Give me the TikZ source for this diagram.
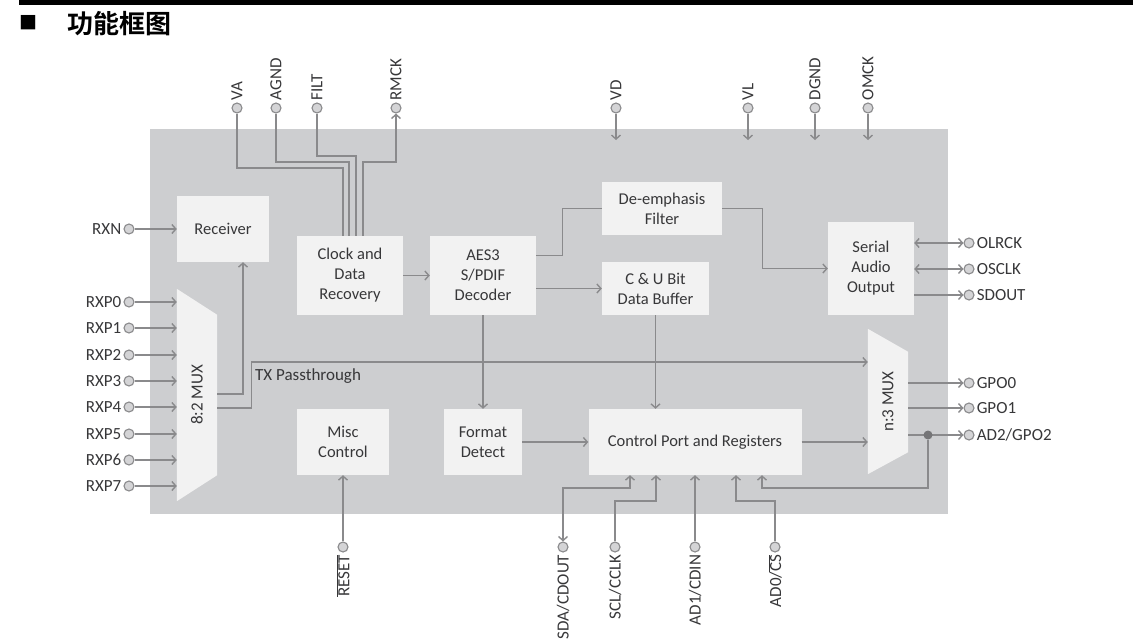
\documentclass[tikz,border=0pt]{standalone}
\usepackage{fontspec}
\setmainfont{Carlito}
\newfontfamily\cjk{Noto Sans CJK SC}[BoldFont={Noto Sans CJK SC Bold}]
\usetikzlibrary{arrows.meta,calc}
\definecolor{chip}{RGB}{205,206,208}
\definecolor{isi}{RGB}{242,242,242}
\definecolor{abu}{RGB}{138,138,140}
\definecolor{bulat}{RGB}{212,212,214}
\definecolor{tinta}{RGB}{55,55,57}

\begin{document}
\begin{tikzpicture}[x=1pt,y=-1pt,
    >={Straight Barb[length=4pt,width=9pt]},
    garis/.style={draw=abu,line width=1.4pt},
    kotak/.style={fill=isi,align=center,inner sep=0pt,text=tinta,
      font=\fontsize{16.5}{20}\selectfont},
    kaki/.style={circle,draw=abu,fill=bulat,line width=1.1pt,
      minimum size=10pt,inner sep=0pt,label distance=3pt},
    nama/.style={text=tinta,font=\fontsize{17}{19}\selectfont,inner sep=2pt},
    atas/.style={label={[nama,rotate=90,anchor=west]above:#1}},
    bawah/.style={label={[nama,rotate=90,anchor=east]below:#1}},
    kiri/.style={label={[nama]left:#1}},
    kanan/.style={label={[nama]right:#1}},
    rangka/.style={minimum width=40,inner sep=0pt}]

    \useasboundingbox (0,0) rectangle (1133,643);

    % --- Judul di atas gambar ----------------------------------------------
    \draw[line width=5pt] (19,2.5) -- (1133,2.5);
    \node[inner sep=0pt,font=\cjk\fontsize{18}{18}\selectfont] (tanda) at (28.5,23) {■};
    \node[anchor=west,inner sep=0pt,font=\cjk\bfseries\fontsize{26}{28}\selectfont]
      (judul) at (67,24) {功能框图};

    % --- Badan chip --------------------------------------------------------
    \fill[chip] (150,129) rectangle (948,514);

    % --- Blok fungsi -------------------------------------------------------
    \node[kotak,minimum width=92,minimum height=66] (rcv) at (223,229) {Receiver};
    \node[kotak,minimum width=106,minimum height=79] (cdr) at (350,275.5)
      {Clock and\\Data\\Recovery};
    \node[kotak,minimum width=106,minimum height=79] (aes) at (483,275.5)
      {AES3\\S/PDIF\\Decoder};
    \node[kotak,minimum width=120,minimum height=53] (dmf) at (662,208.5)
      {De-emphasis\\Filter};
    \node[kotak,minimum width=107,minimum height=53] (cub) at (655.5,288.5)
      {C \& U Bit\\Data Buffer};
    \node[kotak,minimum width=86,minimum height=93] (sao) at (871,268.5)
      {Serial\\Audio\\Output};
    \node[kotak,minimum width=92,minimum height=66] (misc) at (343,442)
      {Misc\\Control};
    \node[kotak,minimum width=78,minimum height=66] (fmt) at (483,442)
      {Format\\Detect};
    \node[kotak,minimum width=213,minimum height=66] (cpr) at (695,442)
      {Control Port and Registers};

    % --- Dua multiplexer berbentuk trapesium -------------------------------
    \node[rangka,minimum height=212] (mux82) at (197,395) {};
    \fill[isi] (mux82.north west) -- ($(mux82.north east)+(0,26)$)
      -- ($(mux82.south east)+(0,-26)$) -- (mux82.south west) -- cycle;
    \node[nama,rotate=90] (tmux82) at (mux82) {8:2 MUX};
    \node[rangka,minimum height=145] (mux3) at (888,401.5) {};
    \fill[isi] (mux3.north west) -- ($(mux3.north east)+(0,23)$)
      -- ($(mux3.south east)+(0,-22)$) -- (mux3.south west) -- cycle;
    \node[nama,rotate=90] (tmux3) at (mux3) {n:3 MUX};

    % --- Kaki di sisi atas -------------------------------------------------
    \node[kaki,atas=VA] (pva) at (237,108) {};
    \node[kaki,atas=AGND] (pagnd) at (276,108) {};
    \node[kaki,atas=FILT] (pfilt) at (317,108) {};
    \node[kaki,atas=RMCK] (prmck) at (396,108) {};
    \node[kaki,atas=VD] (pvd) at (616,108) {};
    \node[kaki,atas=VL] (pvl) at (748,108) {};
    \node[kaki,atas=DGND] (pdgnd) at (815,108) {};
    \node[kaki,atas=OMCK] (pomck) at (868,108) {};

    % --- Kaki di sisi kiri -------------------------------------------------
    \node[kaki,kiri=RXN] (prxn) at (129,229) {};
    \node[kaki,kiri=RXP0] (prxp0) at (129,302) {};
    \node[kaki,kiri=RXP1] (prxp1) at (129,328) {};
    \node[kaki,kiri=RXP2] (prxp2) at (129,355) {};
    \node[kaki,kiri=RXP3] (prxp3) at (129,381) {};
    \node[kaki,kiri=RXP4] (prxp4) at (129,407) {};
    \node[kaki,kiri=RXP5] (prxp5) at (129,434) {};
    \node[kaki,kiri=RXP6] (prxp6) at (129,460) {};
    \node[kaki,kiri=RXP7] (prxp7) at (129,486) {};

    % --- Kaki di sisi kanan ------------------------------------------------
    \node[kaki,kanan=OLRCK] (polrck) at (969,243) {};
    \node[kaki,kanan=OSCLK] (posclk) at (969,269) {};
    \node[kaki,kanan=SDOUT] (psdout) at (969,295) {};
    \node[kaki,kanan=GPO0] (pgpo0) at (969,383) {};
    \node[kaki,kanan=GPO1] (pgpo1) at (969,408) {};
    \node[kaki,kanan=AD2/GPO2] (pgpo2) at (969,435) {};

    % --- Kaki di sisi bawah ------------------------------------------------
    \node[kaki,bawah=$\overline{\mbox{RESET}}$] (preset) at (343,547) {};
    \node[kaki,bawah=SDA/CDOUT] (psda) at (563,547) {};
    \node[kaki,bawah=SCL/CCLK] (pscl) at (615,547) {};
    \node[kaki,bawah=AD1/CDIN] (pad1) at (695,547) {};
    \node[kaki,bawah=AD0/$\overline{\mbox{CS}}$] (pad0) at (775,547) {};

    % --- Kawat catu dan clock dari atas ------------------------------------
    \draw[garis] (pva) |- (343,168) -- ($(cdr.north)+(-7,0)$);
    \draw[garis] (pagnd) |- (349,162) -- ($(cdr.north)+(-1,0)$);
    \draw[garis] (pfilt) |- (356,156) -- ($(cdr.north)+(6,0)$);
    \draw[garis,->] ($(cdr.north)+(13,0)$) |- (396,162) -- (prmck);
    \draw[garis,->] (pvd) -- ++(0,32);
    \draw[garis,->] (pvl) -- ++(0,32);
    \draw[garis,->] (pdgnd) -- ++(0,32);
    \draw[garis,->] (pomck) -- ++(0,32);

    % --- Masukan penerima --------------------------------------------------
    \draw[garis,->] (prxn) -- (rcv.west);
    \draw[garis,->] (prxp0) -- (prxp0 -| mux82.west);
    \draw[garis,->] (prxp1) -- (prxp1 -| mux82.west);
    \draw[garis,->] (prxp2) -- (prxp2 -| mux82.west);
    \draw[garis,->] (prxp3) -- (prxp3 -| mux82.west);
    \draw[garis,->] (prxp4) -- (prxp4 -| mux82.west);
    \draw[garis,->] (prxp5) -- (prxp5 -| mux82.west);
    \draw[garis,->] (prxp6) -- (prxp6 -| mux82.west);
    \draw[garis,->] (prxp7) -- (prxp7 -| mux82.west);
    \draw[garis,->] ($(mux82.east)+(0,-1)$) -| ($(rcv.south)+(20,0)$);
    % Jalur TX Passthrough langsung ke multiplexer keluaran.
    \draw[garis,->] ($(mux82.east)+(0,13)$) -- ++(34,0) |- ($(mux3.west)+(0,-39.5)$);
    \node[nama,anchor=west] (tx) at (253,376) {TX Passthrough};

    % --- Alur data di dalam chip -------------------------------------------
    \draw[garis,->] (cdr) -- (aes);
    \draw[garis] ($(aes.east)+(0,-20)$) -- ++(26,0) |- (dmf.west);
    \draw[garis,->] (aes.east |- cub) -- (cub.west);
    \draw[garis,->] (dmf.east) -- ++(40,0) |- (sao.west);
    \draw[garis,->] (aes) -- (fmt);
    \draw[garis,->] (cub) -- (cub |- cpr.north);
    \draw[garis,->] (fmt) -- (cpr);
    \draw[garis,->] (cpr.east) -- (cpr.east -| mux3.west);

    % --- Keluaran di sisi kanan --------------------------------------------
    \draw[garis,<->] (sao.east |- polrck) -- (polrck);
    \draw[garis,<->] (sao.east |- posclk) -- (posclk);
    \draw[garis,->] (sao.east |- psdout) -- (psdout);
    \draw[garis,->] (mux3.east |- pgpo0) -- (pgpo0);
    \draw[garis,->] (mux3.east |- pgpo1) -- (pgpo1);
    \draw[garis,->] (mux3.east |- pgpo2) -- (pgpo2);

    % --- Port kontrol di sisi bawah ----------------------------------------
    \draw[garis,->] (preset) -- (misc.south);
    \draw[garis,<->] (psda) |- (630,488) -- ($(cpr.south)+(-65,0)$);
    \draw[garis,->] (pscl) |- (656,501) -- ($(cpr.south)+(-39,0)$);
    \draw[garis,->] (pad1) -- (cpr.south);
    \draw[garis,->] (pad0) |- (736,501) -- ($(cpr.south)+(41,0)$);
    % AD2 juga kembali ke port kontrol lewat titik cabang.
    \node[circle,fill=abu!85!black,minimum size=9pt,inner sep=0pt] (cabang) at (928,435) {};
    \draw[garis,->] (cabang) |- (762,488) -- ($(cpr.south)+(67,0)$);
  \end{tikzpicture}
\end{document}
